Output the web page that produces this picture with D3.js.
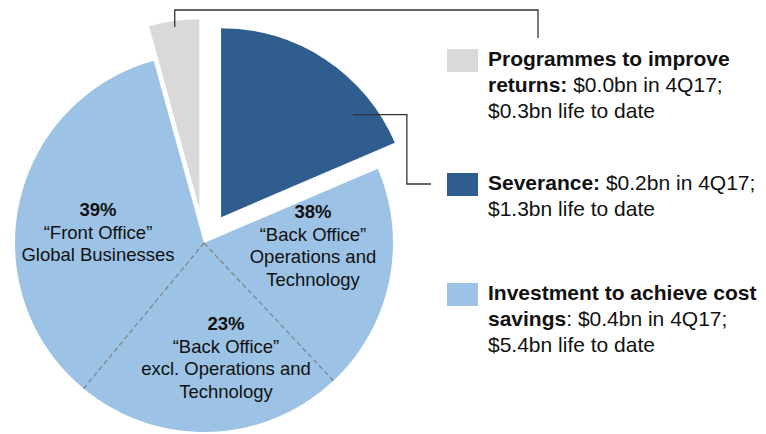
<!DOCTYPE html>
<html>
<head>
<meta charset="utf-8">
<script src="https://cdn.jsdelivr.net/npm/d3@7"></script>
<style>
  body { margin: 0; background: #fff; }
  svg { display: block; font-family: "Liberation Sans", Arial, Helvetica, sans-serif; }
</style>
</head>
<body>
<svg id="chart" width="766" height="434"></svg>
<script>
// Cost-to-achieve categories ($bn)
const categories = ["Programmes to improve returns", "Severance", "Investment to achieve cost savings"];
const quarterSpend = [0.0, 0.2, 0.4];      // 4Q17
const lifeToDate = [0.3, 1.3, 5.4];         // life to date
const sliceColors = ["#d9d9d9", "#2f5e8e", "#9cc3e5"];

// Split of spend by business area (%), clockwise from 12 o'clock
const areaShare = [38, 23, 39];
const areaLines = [
  ["\u201cBack Office\u201d", "Operations and", "Technology"],
  ["\u201cBack Office\u201d", "excl. Operations and", "Technology"],
  ["\u201cFront Office\u201d", "Global Businesses"]
];

// clockwise drawing order of the pie: Severance, Investment, Programmes
const sliceOrder = [1, 2, 0];

const svg = d3.select("#chart");
const cx = 204, cy = 243, radius = 189;
const explode = {0: 35, 1: 31, 2: 0};

const g = svg.append("g").attr("transform", `translate(${cx},${cy})`);

const pie = d3.pie().sort(null).value(i => lifeToDate[i]);
const arcs = pie(sliceOrder);
const arc = d3.arc().innerRadius(0).outerRadius(radius);

function offset(d, dist) {
  const mid = (d.startAngle + d.endAngle) / 2;
  return [Math.sin(mid) * dist, -Math.cos(mid) * dist];
}

g.selectAll("path.slice")
  .data(arcs)
  .join("path")
  .attr("class", "slice")
  .attr("d", arc)
  .attr("fill", d => sliceColors[d.data])
  .attr("transform", d => {
    const [dx, dy] = offset(d, explode[d.data]);
    return `translate(${dx},${dy})`;
  });

// Business-area split: dashed dividers across the investment slice
const areaArcs = d3.pie().sort(null)(areaShare);
const invest = arcs.find(d => d.data === 2);
const dividers = areaArcs.slice(0, -1).map(a => a.endAngle)
  .filter(a => a > invest.startAngle && a < invest.endAngle);

g.selectAll("line.divider")
  .data(dividers)
  .join("line")
  .attr("class", "divider")
  .attr("x1", 0).attr("y1", 0)
  .attr("x2", a => Math.sin(a) * radius)
  .attr("y2", a => -Math.cos(a) * radius)
  .attr("stroke", "#808080")
  .attr("stroke-width", 1.2)
  .attr("stroke-dasharray", "5,3");

// Area labels (first-line baseline, centred)
const areaLabelPos = [[313, 218], [226, 330], [98, 216]];
const lineGap = 22.5;
areaShare.forEach((v, i) => {
  const [x, y] = areaLabelPos[i];
  const t = svg.append("text")
    .attr("text-anchor", "middle")
    .attr("font-size", 18.5)
    .attr("fill", "#111");
  t.append("tspan").attr("x", x).attr("y", y)
    .attr("font-weight", "bold").text(v + "%");
  areaLines[i].forEach((s, k) => {
    t.append("tspan").attr("x", x).attr("y", y + lineGap * (k + 1)).text(s);
  });
});

// Legend
const legX = 447, textX = 488, legLine = 26;
const legTop = [66, 190, 300];
const fmt = v => "$" + v.toFixed(1) + "bn";
const legendLines = [
  [[["Programmes to improve", true]],
   [["returns:", true], [" " + fmt(quarterSpend[0]) + " in 4Q17;", false]],
   [[fmt(lifeToDate[0]) + " life to date", false]]],
  [[["Severance:", true], [" " + fmt(quarterSpend[1]) + " in 4Q17;", false]],
   [[fmt(lifeToDate[1]) + " life to date", false]]],
  [[["Investment to achieve cost", true]],
   [["savings", true], [": " + fmt(quarterSpend[2]) + " in 4Q17;", false]],
   [[fmt(lifeToDate[2]) + " life to date", false]]]
];

categories.forEach((c, i) => {
  const y0 = legTop[i];
  svg.append("rect")
    .attr("x", legX).attr("y", y0 - 17)
    .attr("width", 31).attr("height", 23)
    .attr("fill", sliceColors[i]);
  legendLines[i].forEach((parts, k) => {
    const t = svg.append("text")
      .attr("x", textX).attr("y", y0 + k * legLine)
      .attr("font-size", 21)
      .attr("fill", "#111");
    parts.forEach(([s, bold]) => {
      t.append("tspan").attr("font-weight", bold ? "bold" : "normal").text(s);
    });
  });
});

// Leader lines from exploded slices to their legend entries
function slicePoint(d, angleFrac, r) {
  const [dx, dy] = offset(d, explode[d.data]);
  const a = d.startAngle + (d.endAngle - d.startAngle) * angleFrac;
  return [cx + dx + Math.sin(a) * r, cy + dy - Math.cos(a) * r];
}
const leader = d3.line();

const progArc = arcs.find(d => d.data === 0);
const p0 = slicePoint(progArc, 0.5, 183);
svg.append("path")
  .attr("d", leader([p0, [p0[0], 10], [538, 10], [538, 38]]))
  .attr("fill", "none").attr("stroke", "#333").attr("stroke-width", 1.3);

const sevArc = arcs.find(d => d.data === 1);
const s0 = slicePoint(sevArc, 0.78, 167);
const corner = slicePoint(sevArc, 1, radius);
const elbowX = corner[0] + 12;
svg.append("path")
  .attr("d", leader([s0, [elbowX, s0[1]], [elbowX, legTop[1] - 6], [legX - 16, legTop[1] - 6]]))
  .attr("fill", "none").attr("stroke", "#333").attr("stroke-width", 1.3);
</script>
</body>
</html>
